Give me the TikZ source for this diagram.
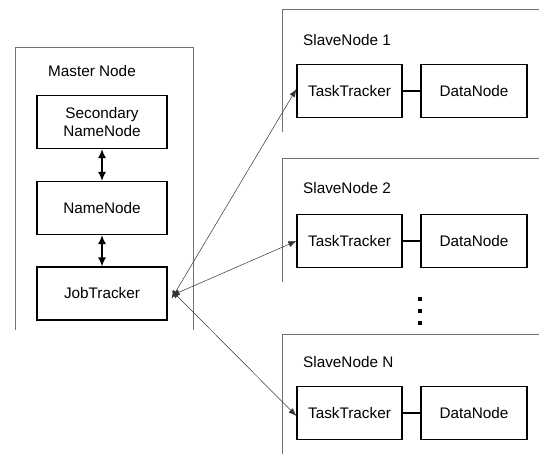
\documentclass[tikz,border=0pt]{standalone}
\usepackage{fontspec}
\setmainfont{Liberation Sans}
\usetikzlibrary{arrows.meta, positioning}

\begin{document}
\begin{tikzpicture}[x=1pt, y=-1pt,
  font=\fontsize{15.3}{18}\selectfont,
  box/.style={draw, line width=1.2pt, inner sep=0pt, minimum height=53pt, align=center},
  title/.style={anchor=west, inner sep=0pt},
  frame/.style={draw=black!55, line width=0.9pt},
  link/.style={{Latex[length=8pt,width=6pt]}-{Latex[length=8pt,width=6pt]}, line width=0.5pt, black!80},
  updown/.style={{Latex[length=9pt,width=8pt]}-{Latex[length=9pt,width=8pt]}, line width=1.3pt}]
\useasboundingbox (0,0) rectangle (539,454);

% Master node
\draw[frame] (15,330) -- (15,47) -- (193,47) -- (193,330);
\node[title] (master) at (48,71) {Master Node};
\node[box, minimum width=130pt] (snn) at (102,122) {Secondary\\NameNode};
\node[box, minimum width=130pt] (nn) at (102,208) {NameNode};
\node[box, minimum width=130pt] (jt) at (102,293.5) {JobTracker};
\draw[updown] (snn) -- (nn);
\draw[updown] (nn) -- (jt);

% Slave nodes
\foreach \top/\bot in {9/132, 158/282, 334/454}
  \draw[frame] (539,\top) -- (282,\top) -- (282,\bot);
\foreach \i/\y/\ty/\name in {1/91/40/1, 2/241/188/2, n/413/362/N} {
  \node[title] (slave\i) at (303,\ty) {SlaveNode \name};
  \node[box, minimum width=105pt] (tt\i) at (349.5,\y) {TaskTracker};
  \node[box, minimum width=106pt] (dn\i) at (474,\y) {DataNode};
  \draw[line width=1.6pt] (tt\i) -- (dn\i);
}

% more slaves
\foreach \y in {299,311,323}
  \fill (418,\y-2) rectangle (422,\y+2);

% JobTracker to TaskTrackers
\draw[link] ([xshift=4pt,yshift=-5pt]jt.east) -- ([yshift=2pt]tt1.west);
\draw[link] ([xshift=4pt,yshift=-2pt]jt.east) -- (tt2.west);
\draw[link] ([xshift=4pt,yshift=3pt]jt.east) -- ([yshift=-3pt]ttn.west);
\end{tikzpicture}
\end{document}
